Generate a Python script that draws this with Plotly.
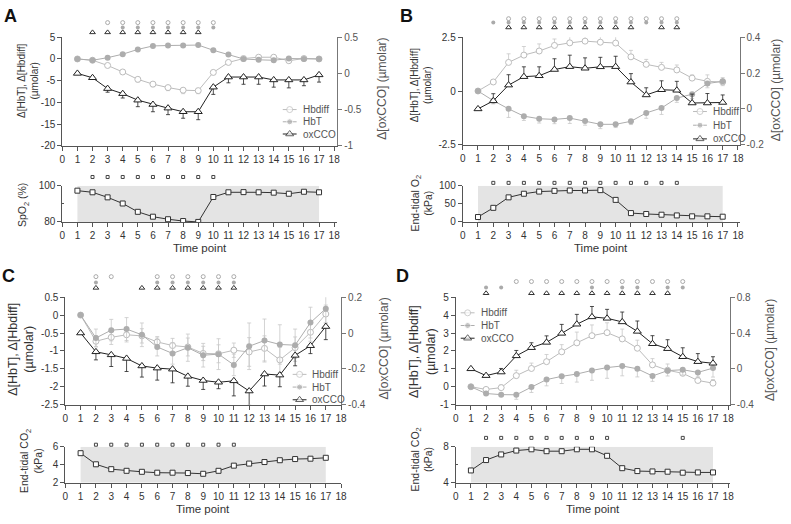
import plotly.graph_objects as go

W, H = 791, 524
time_points = list(range(1, 18))

# ---- Panel A: hypoxia ----
a_hbdiff = [0, -0.3, -1.5, -3.0, -4.7, -5.8, -6.6, -7.2, -7.3, -3.1, -0.8, 0.1, 0.4, 0.4, -0.4, 0.1, 0]
a_hbdiff_err = [0, 0, 0.3, 0.5, 0.6, 0.6, 0.7, 0.8, 0.7, 0.5, 0.3, 0.2, 0.2, 0.2, 0.3, 0.2, 0.2]
a_hbt = [0, -0.3, 0.3, 1.1, 2.2, 3.0, 3.1, 3.1, 3.2, 2.0, 1.0, 0, -0.2, -0.3, 0.1, 0, 0]
a_hbt_err = [0] * 17
a_oxcco = [0, -0.06, -0.21, -0.28, -0.37, -0.43, -0.48, -0.53, -0.53, -0.19, -0.05, -0.05, -0.05, -0.09, -0.09, -0.09, -0.02]
a_oxcco_err = [0, 0, 0.05, 0.06, 0.09, 0.1, 0.09, 0.09, 0.11, 0.1, 0.08, 0.1, 0.1, 0.1, 0.11, 0.08, 0.1]
a_spo2 = [97.3, 96.4, 93.6, 90.2, 85.6, 82.9, 81.5, 80.5, 80.0, 93.8, 96.4, 96.5, 96.4, 96.2, 95.6, 96.7, 96.4]
a_sig_hbdiff = [3, 4, 5, 6, 7, 8, 9, 10]
a_sig_hbt = [4, 5, 6, 7, 8, 9, 10]
a_sig_oxcco = [2, 3, 4, 5, 6, 7, 8, 9]
a_sig_sub = [2, 3, 4, 5, 6, 7, 8, 9, 10]

# ---- Panel B: hyperoxia ----
b_hbdiff = [0, 0.42, 1.33, 1.67, 1.86, 2.12, 2.24, 2.32, 2.27, 2.23, 1.59, 1.24, 1.1, 0.98, 0.6, 0.45, 0.42]
b_hbdiff_err = [0, 0.1, 0.4, 0.4, 0.33, 0.3, 0.33, 0.4, 0.33, 0.38, 0.3, 0.23, 0.23, 0.23, 0.15, 0.3, 0.2]
b_hbt = [0, -0.45, -0.83, -1.17, -1.29, -1.32, -1.26, -1.39, -1.55, -1.55, -1.41, -1.02, -0.79, -0.33, -0.15, 0.35, 0.45]
b_hbt_err = [0, 0.15, 0.4, 0.2, 0.2, 0.2, 0.25, 0.2, 0.2, 0.15, 0.15, 0.25, 0.3, 0.2, 0.2, 0.2, 0.2]
b_oxcco = [0, 0.045, 0.133, 0.18, 0.185, 0.22, 0.236, 0.227, 0.235, 0.236, 0.15, 0.078, 0.107, 0.104, 0.033, 0.033, 0.036]
b_oxcco_err = [0, 0.04, 0.058, 0.055, 0.05, 0.06, 0.064, 0.058, 0.053, 0.058, 0.047, 0.04, 0.05, 0.05, 0.05, 0.053, 0.042]
b_eto2 = [13.6, 39, 68, 78, 84, 86, 87, 87, 88, 61, 24.5, 22, 20, 18, 15.5, 15.5, 14.5]
b_sig_hbdiff = [3, 4, 5, 6, 7, 8, 9, 10, 11, 12, 13, 14]
b_sig_hbt = [2, 3, 4, 5, 6, 7, 8, 9, 10, 11, 12, 13, 14]
b_sig_oxcco = [3, 4, 5, 6, 7, 8, 9, 10, 11, 13, 14]
b_sig_sub = [2, 3, 4, 5, 6, 7, 8, 9, 10, 11, 12, 13, 14]

# ---- Panel C: hypocapnia ----
c_hbdiff = [0, -0.73, -0.62, -0.55, -0.58, -0.75, -0.85, -0.89, -1.07, -1.08, -0.98, -1.03, -0.93, -1.25, -0.91, -0.48, 0.03]
c_hbdiff_err = [0, 0.15, 0.2, 0.2, 0.2, 0.15, 0.2, 0.25, 0.2, 0.25, 0.2, 0.4, 0.35, 0.35, 0.3, 0.25, 0.25]
c_hbt = [0, -0.64, -0.42, -0.39, -0.55, -0.89, -1.07, -0.91, -1.12, -1.09, -1.39, -0.87, -0.71, -0.82, -0.84, -0.21, 0.18]
c_hbt_err = [0, 0.25, 0.3, 0.32, 0.33, 0.25, 0.3, 0.38, 0.33, 0.43, 0.3, 0.65, 0.6, 0.55, 0.45, 0.43, 0.4]
c_oxcco = [0, -0.105, -0.122, -0.142, -0.184, -0.196, -0.202, -0.242, -0.265, -0.275, -0.267, -0.324, -0.229, -0.235, -0.125, -0.071, 0.036]
c_oxcco_err = [0, 0.045, 0.065, 0.073, 0.062, 0.067, 0.076, 0.055, 0.05, 0.036, 0.084, 0.08, 0.067, 0.065, 0.058, 0.044, 0.073]
c_etco2 = [5.28, 4.05, 3.51, 3.33, 3.22, 3.12, 3.12, 3.08, 3.0, 3.33, 3.9, 4.13, 4.3, 4.5, 4.63, 4.67, 4.77]
c_sig_hbdiff = [2, 3, 6, 7, 8, 9, 10, 11]
c_sig_hbt = [2, 6, 7, 8, 9, 10, 11]
c_sig_oxcco = [2, 5, 6, 7, 8, 9, 10, 11]
c_sig_sub = [2, 3, 4, 5, 6, 7, 8, 9, 10, 11]

# ---- Panel D: hypercapnia ----
d_hbdiff = [0, -0.15, -0.05, 0.62, 1.02, 1.4, 1.95, 2.45, 2.85, 3.02, 2.67, 2.15, 1.22, 0.92, 0.75, 0.35, 0.2]
d_hbdiff_err = [0, 0.1, 0.15, 0.3, 0.3, 0.4, 0.4, 0.6, 0.6, 0.55, 0.55, 0.45, 0.35, 0.35, 0.2, 0.2, 0.2]
d_hbt = [0, -0.38, -0.44, -0.45, -0.02, 0.4, 0.58, 0.71, 0.91, 1.07, 1.16, 1.0, 0.6, 0.9, 0.95, 0.8, 1.04]
d_hbt_err = [0, 0.1, 0.1, 0.25, 0.3, 0.35, 0.4, 0.45, 0.55, 0.6, 0.55, 0.45, 0.3, 0.3, 0.3, 0.3, 0.5]
d_oxcco = [0, -0.076, -0.036, 0.145, 0.236, 0.295, 0.396, 0.498, 0.58, 0.564, 0.524, 0.418, 0.28, 0.225, 0.135, 0.08, 0.062]
d_oxcco_err = [0, 0, 0.04, 0.06, 0.055, 0.073, 0.1, 0.11, 0.116, 0.1, 0.11, 0.116, 0.09, 0.1, 0.1, 0.09, 0.073]
d_etco2 = [5.37, 6.52, 7.14, 7.57, 7.71, 7.5, 7.5, 7.71, 7.71, 6.99, 5.62, 5.3, 5.26, 5.23, 5.12, 5.15, 5.15]
d_sig_hbdiff = [4, 5, 6, 7, 8, 9, 10, 11, 12, 13, 14, 15]
d_sig_hbt = [2, 3, 9, 11, 12, 14, 15]
d_sig_oxcco = [2, 5, 6, 7, 8, 9, 10, 11, 12, 13, 14]
d_sig_sub = [2, 3, 4, 5, 6, 7, 8, 9, 10, 15]

series_names = ["Hbdiff", "HbT", "oxCCO"]
band_start, band_end = 1, 17
x_ticks = list(range(0, 19))

HBDIFF_C = "#bcbcbc"
HBT_C = "#adadad"
OX_C = "#222222"
AX_C = "#555555"
TXT_C = "#333333"


def xdom(a, b):
    return [a / W, b / W]


def ydom(top, bottom):
    return [1 - bottom / H, 1 - top / H]


def labels(vals):
    return [f"{v:g}" for v in vals]


# positions in pixels: axis spans, title centres, legend anchor
panels = [
    dict(letter="A", lx=8, ly=10,
         hbdiff=a_hbdiff, hbdiff_err=a_hbdiff_err, hbdiff_dir="down",
         hbt=a_hbt, hbt_err=a_hbt_err, hbt_dir="down",
         ox=a_oxcco, ox_err=a_oxcco_err, ox_dir="down",
         sub=a_spo2, sig=(a_sig_hbdiff, a_sig_hbt, a_sig_oxcco), sig_sub=a_sig_sub,
         left=([-20, 5], [5, 0, -5, -10, -15, -20]), right=([-1, 0.5], [0.5, 0, -0.5, -1]),
         subr=([80, 100], [80, 100]), sub_minor=[90], subtitle="SpO<sub>2</sub> (%)",
         xpx=(60, 338), xmax=18.2, main_y=(32, 143), sub_y=(184, 221),
         sig_off=(15, 10, 5), sub_off=9, leg=(283, 106, 12.5),
         lt=(26, 76, 10), rt=(383, 85), st=(21, 204), tp=(199, 248)),
    dict(letter="B", lx=408, ly=10,
         hbdiff=b_hbdiff, hbdiff_err=b_hbdiff_err, hbdiff_dir="up",
         hbt=b_hbt, hbt_err=b_hbt_err, hbt_dir="down",
         ox=b_oxcco, ox_err=b_oxcco_err, ox_dir="up",
         sub=b_eto2, sig=(b_sig_hbdiff, b_sig_hbt, b_sig_oxcco), sig_sub=b_sig_sub,
         left=([-2.5, 2.5], [2.5, 0, -2.5]), right=([-0.2, 0.4], [0.4, 0.2, 0, -0.2]),
         subr=([0, 100], [0, 50, 100]), sub_minor=[], subtitle="End-tidal O<sub>2</sub><br>(kPa)",
         xpx=(465, 745), xmax=18.1, main_y=(32, 142), sub_y=(184, 221),
         sig_off=(19, 15, 10), sub_off=3, leg=(698, 108, 14),
         lt=(423, 81, 10), rt=(782, 86), st=(424, 202), tp=(605, 248)),
    dict(letter="C", lx=6, ly=276,
         hbdiff=c_hbdiff, hbdiff_err=c_hbdiff_err, hbdiff_dir="both",
         hbt=c_hbt, hbt_err=c_hbt_err, hbt_dir="both",
         ox=c_oxcco, ox_err=c_oxcco_err, ox_dir="down",
         sub=c_etco2, sig=(c_sig_hbdiff, c_sig_hbt, c_sig_oxcco), sig_sub=c_sig_sub,
         left=([-2.5, 0.5], [0.5, 0, -0.5, -1, -1.5, -2, -2.5]), right=([-0.4, 0.2], [0.2, 0, -0.2, -0.4]),
         subr=([2, 6], [2, 4, 6]), sub_minor=[], subtitle="End-tidal CO<sub>2</sub><br>(kPa)",
         xpx=(63, 342), xmax=18.0, main_y=(298, 408), sub_y=(451, 488),
         sig_off=(21, 15, 9.5), sub_off=2, leg=(293, 377, 13),
         lt=(18, 351, 12.5), rt=(385, 351), st=(29, 466), tp=(202, 515)),
    dict(letter="D", lx=404, ly=276,
         hbdiff=d_hbdiff, hbdiff_err=d_hbdiff_err, hbdiff_dir="up",
         hbt=d_hbt, hbt_err=d_hbt_err, hbt_dir="down",
         ox=d_oxcco, ox_err=d_oxcco_err, ox_dir="up",
         sub=d_etco2, sig=(d_sig_hbdiff, d_sig_hbt, d_sig_oxcco), sig_sub=d_sig_sub,
         left=([-1, 5], [5, 4, 3, 2, 1, 0, -1]), right=([-0.4, 0.8], [0.8, 0.4, 0, -0.4]),
         subr=([4, 8], [4, 8]), sub_minor=[6], subtitle="End-tidal CO<sub>2</sub><br>(kPa)",
         xpx=(458, 735), xmax=18.1, main_y=(298, 408), sub_y=(451, 488),
         sig_off=(16, 10, 4), sub_off=9, leg=(463, 314, 13),
         lt=(424, 354, 12.5), rt=(776, 352), st=(424, 464), tp=(597, 515)),
]


def err(vals, direction, color):
    zeros = [0] * len(vals)
    if direction == "both":
        return dict(type="data", array=vals, symmetric=True, color=color, thickness=0.8, width=2)
    up = vals if direction == "up" else zeros
    down = vals if direction == "down" else zeros
    return dict(type="data", array=up, arrayminus=down, symmetric=False,
                color=color, thickness=0.8, width=2)


def ref(a, n):
    return a if n == 1 else f"{a}{n}"


def key(a, n):
    return f"{a}axis" if n == 1 else f"{a}axis{n}"


def label(text, x, y, size, color=TXT_C, angle=0, anchor="center"):
    return dict(text=text, x=x / W, y=1 - y / H, xref="paper", yref="paper",
                showarrow=False, textangle=angle, xanchor=anchor, yanchor="middle",
                font=dict(size=size, color=color))


axis_base = dict(showline=True, linecolor=AX_C, linewidth=1, ticks="outside", ticklen=4,
                 tickcolor=AX_C, tickfont=dict(size=10, color=TXT_C), showgrid=False,
                 zeroline=False)
hidden = dict(visible=False, showgrid=False, zeroline=False, fixedrange=True)

styles = {
    "Hbdiff": dict(line=dict(color=HBDIFF_C, width=1),
                   marker=dict(symbol="circle", size=6, color="white",
                               line=dict(color=HBDIFF_C, width=1))),
    "HbT": dict(line=dict(color=HBT_C, width=1),
                marker=dict(symbol="circle", size=6, color=HBT_C)),
    "oxCCO": dict(line=dict(color=OX_C, width=1),
                  marker=dict(symbol="triangle-up", size=7, color="white",
                              line=dict(color=OX_C, width=1))),
}

fig = go.Figure()
layout = {}
shapes = []
annotations = []

# overlay axis in pixel units for the hand-made legends
PX_X, PX_Y = 9, 21
layout[key("x", PX_X)] = dict(hidden, domain=[0, 1], range=[0, W], anchor=ref("y", PX_Y))
layout[key("y", PX_Y)] = dict(hidden, domain=[0, 1], range=[H, 0], anchor=ref("x", PX_X))

for k, p in enumerate(panels):
    xm, xs = 2 * k + 1, 2 * k + 2
    yl, yr, ys, ysig, ysig2 = 5 * k + 1, 5 * k + 2, 5 * k + 3, 5 * k + 4, 5 * k + 5
    top, bottom = p["main_y"]
    stop, sbottom = p["sub_y"]

    # axes
    layout[key("x", xm)] = dict(axis_base, domain=xdom(*p["xpx"]), range=[0, p["xmax"]],
                                tickvals=x_ticks, anchor=ref("y", yl))
    layout[key("y", yl)] = dict(axis_base, domain=ydom(top, bottom), range=p["left"][0],
                                tickvals=p["left"][1], ticktext=labels(p["left"][1]),
                                anchor=ref("x", xm))
    layout[key("y", yr)] = dict(axis_base, range=p["right"][0], overlaying=ref("y", yl),
                                side="right", anchor=ref("x", xm),
                                tickvals=p["right"][1], ticktext=labels(p["right"][1]),
                                linecolor="#777", tickcolor="#777",
                                tickfont=dict(size=10, color="#555"))
    layout[key("x", xs)] = dict(axis_base, domain=xdom(*p["xpx"]), range=[0, p["xmax"]],
                                tickvals=x_ticks, anchor=ref("y", ys))
    layout[key("y", ys)] = dict(axis_base, domain=ydom(stop, sbottom), range=p["subr"][0],
                                tickvals=p["subr"][1], ticktext=labels(p["subr"][1]),
                                anchor=ref("x", xs))
    if p["sub_minor"]:
        layout[key("y", ys)]["minor"] = dict(tickvals=p["sub_minor"], ticks="inside",
                                             ticklen=2, tickcolor=AX_C)
    # strips above the plots for the significance symbols (pixel offsets)
    layout[key("y", ysig)] = dict(hidden, domain=ydom(top - 24, top), range=[0, 24],
                                  anchor=ref("x", xm))
    layout[key("y", ysig2)] = dict(hidden, domain=ydom(stop - 12, stop), range=[0, 12],
                                   anchor=ref("x", xs))

    # axis titles
    tx, ty, tsize = p["lt"]
    annotations.append(label("Δ[HbT], Δ[Hbdiff]<br>(µmolar)", tx, ty, tsize, angle=-90))
    annotations.append(label("Δ[oxCCO] (µmolar)", *p["rt"], 12, color="#555", angle=-90))
    annotations.append(label(p["subtitle"], *p["st"], 10.5, angle=-90))
    annotations.append(label("Time point", *p["tp"], 11.5))

    # main traces
    fig.add_trace(go.Scatter(
        x=time_points, y=p["hbdiff"], name="Hbdiff", mode="lines+markers",
        error_y=err(p["hbdiff_err"], p["hbdiff_dir"], "#c8c8c8"), showlegend=False,
        xaxis=ref("x", xm), yaxis=ref("y", yl), **styles["Hbdiff"]))
    fig.add_trace(go.Scatter(
        x=time_points, y=p["hbt"], name="HbT", mode="lines+markers",
        error_y=err(p["hbt_err"], p["hbt_dir"], "#c8c8c8"), showlegend=False,
        xaxis=ref("x", xm), yaxis=ref("y", yl), **styles["HbT"]))
    fig.add_trace(go.Scatter(
        x=time_points, y=p["ox"], name="oxCCO", mode="lines+markers",
        error_y=err(p["ox_err"], p["ox_dir"], OX_C), showlegend=False,
        xaxis=ref("x", xm), yaxis=ref("y", yr), **styles["oxCCO"]))

    # significance markers above the main plot
    sig_styles = [
        dict(symbol="circle", size=4, color="white", line=dict(color="#aaaaaa", width=1)),
        dict(symbol="circle", size=4, color="#aaaaaa"),
        dict(symbol="triangle-up", size=5, color="white", line=dict(color="#333333", width=1)),
    ]
    for xs_list, off, style in zip(p["sig"], p["sig_off"], sig_styles):
        fig.add_trace(go.Scatter(
            x=xs_list, y=[off] * len(xs_list), mode="markers", marker=style,
            cliponaxis=False, showlegend=False, hoverinfo="skip",
            xaxis=ref("x", xm), yaxis=ref("y", ysig)))

    # sub plot
    slo, shi = p["subr"][0]
    shapes.append(dict(type="rect", xref=ref("x", xs), yref=ref("y", ys),
                       x0=band_start, x1=band_end, y0=slo, y1=shi,
                       fillcolor="#e4e4e4", line=dict(width=0), layer="below"))
    fig.add_trace(go.Scatter(
        x=time_points, y=p["sub"], mode="lines+markers", showlegend=False,
        line=dict(color="#333333", width=1),
        marker=dict(symbol="square", size=5, color="white", line=dict(color="#333333", width=1)),
        xaxis=ref("x", xs), yaxis=ref("y", ys)))
    fig.add_trace(go.Scatter(
        x=p["sig_sub"], y=[p["sub_off"]] * len(p["sig_sub"]), mode="markers",
        marker=dict(symbol="square", size=3, color="white", line=dict(color="#444444", width=1)),
        cliponaxis=False, showlegend=False, hoverinfo="skip",
        xaxis=ref("x", xs), yaxis=ref("y", ysig2)))

    # legend drawn by hand so its rows sit close together
    lx0, ly0, step = p["leg"]
    for i, name in enumerate(series_names):
        yy = ly0 + i * step
        st = styles[name]
        fig.add_trace(go.Scatter(
            x=[lx0, lx0 + 7, lx0 + 14], y=[yy] * 3, mode="lines+markers",
            line=st["line"], marker=dict(st["marker"], size=[0, st["marker"]["size"], 0]),
            showlegend=False, hoverinfo="skip", cliponaxis=False,
            xaxis=ref("x", PX_X), yaxis=ref("y", PX_Y)))
        annotations.append(label(name, lx0 + 18, yy, 10, color="#555", anchor="left"))

    annotations.append(label(f"<b>{p['letter']}</b>", p["lx"], p["ly"], 18, color="#111"))

fig.update_layout(**layout)
fig.update_layout(
    width=W, height=H, margin=dict(l=0, r=0, t=0, b=0),
    plot_bgcolor="rgba(0,0,0,0)", paper_bgcolor="white", showlegend=False,
    font=dict(family="Liberation Sans, Arial, sans-serif", color=TXT_C),
    shapes=shapes, annotations=annotations,
)

# the page body has a default 8px margin; drop it so pixel positions line up
fig.write_html("out.html", config={"displayModeBar": False},
               post_script="document.body.style.margin = '0';")
